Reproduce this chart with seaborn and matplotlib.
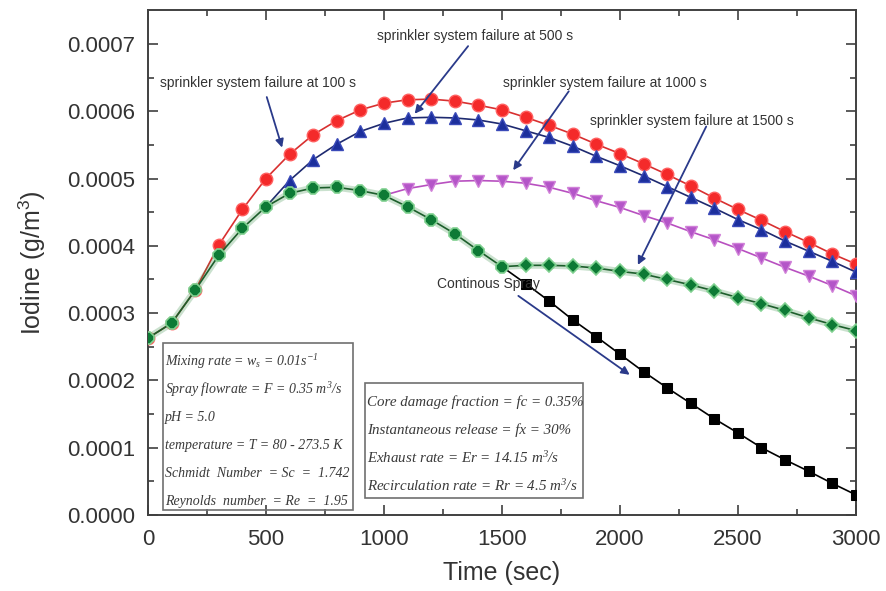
import numpy as np
import pandas as pd
import seaborn as sns
import matplotlib.pyplot as plt
from matplotlib.patches import Rectangle

# time axis (s)
time = list(range(0, 3100, 100))

# iodine concentration (g/m^3)
continuous = [0.000263, 0.000285, 0.000334, 0.000386, 0.000426, 0.000458,
              0.000478, 0.000486, 0.000487, 0.000482, 0.000475, 0.000458,
              0.000439, 0.000418, 0.000393, 0.000369, 0.000344, 0.000318,
              0.000290, 0.000265, 0.000239, 0.000213, 0.000189, 0.000166,
              0.000143, 0.000122, 0.000100, 0.000082, 0.000065, 0.000047,
              0.000030]
fail_100 = [0.000263, 0.000285, 0.000334, 0.000401, 0.000454, 0.000500,
            0.000536, 0.000565, 0.000586, 0.000602, 0.000612, 0.000617,
            0.000618, 0.000615, 0.000609, 0.000602, 0.000591, 0.000579,
            0.000566, 0.000551, 0.000537, 0.000522, 0.000506, 0.000489,
            0.000471, 0.000454, 0.000438, 0.000421, 0.000405, 0.000388,
            0.000373]
# these start at the failure time
fail_500 = [0.000458, 0.000497, 0.000528, 0.000551, 0.000570, 0.000582,
            0.000590, 0.000591, 0.000590, 0.000587, 0.000581, 0.000571,
            0.000561, 0.000548, 0.000533, 0.000519, 0.000504, 0.000488,
            0.000472, 0.000456, 0.000439, 0.000424, 0.000407, 0.000392,
            0.000377, 0.000361]
fail_1000 = [0.000475, 0.000485, 0.000491, 0.000496, 0.000497, 0.000496,
             0.000493, 0.000487, 0.000478, 0.000467, 0.000457, 0.000445,
             0.000434, 0.000421, 0.000409, 0.000396, 0.000382, 0.000368,
             0.000355, 0.000341, 0.000326]
fail_1500 = [0.000369, 0.000371, 0.000371, 0.000370, 0.000367, 0.000362,
             0.000358, 0.000350, 0.000342, 0.000333, 0.000323, 0.000314,
             0.000304, 0.000293, 0.000283, 0.000274]

box1_lines = ["Mixing rate = w$_s$ = 0.01s$^{-1}$",
              "Spray flowrate = F = 0.35 m$^3$/s",
              "pH = 5.0",
              "temperature = T = 80 - 273.5 K",
              "Schmidt  Number  = Sc  =  1.742",
              "Reynolds  number  = Re  =  1.95"]
box2_lines = ["Core damage fraction = fc = 0.35%",
              "Instantaneous release = fx = 30%",
              "Exhaust rate = Er = 14.15 m$^3$/s",
              "Recirculation rate = Rr = 4.5 m$^3$/s"]

sns.set_style("ticks")
plt.rcParams['font.family'] = ['Liberation Sans', 'DejaVu Sans']
plt.rcParams['mathtext.fontset'] = 'stix'

fig = plt.figure(figsize=(8.86, 5.91), dpi=100)
ax = fig.add_axes([0.167, 0.1286, 0.799, 0.854])

t = np.array(time)
ms = 9
later = slice(1, None)

# red: failure at 100 s
sns.lineplot(x=t, y=fail_100, ax=ax, color='#d83030', lw=1.2,
             marker='o', markersize=ms, markerfacecolor='#f42a2a',
             markeredgecolor='#ff6060', markeredgewidth=1, zorder=3)
# blue: failure at 500 s
sns.lineplot(x=t[5:], y=fail_500, ax=ax, color='#1e2a70', lw=1.2,
             marker='^', markersize=ms, markevery=later,
             markerfacecolor='#1c2f9c', markeredgecolor='#3a4ab8',
             markeredgewidth=1, zorder=3)
# magenta: failure at 1000 s
sns.lineplot(x=t[10:], y=fail_1000, ax=ax, color='#b850c0', lw=1.2,
             marker='v', markersize=ms, markevery=later,
             markerfacecolor='#b455c8', markeredgecolor='#d080d8',
             markeredgewidth=1, zorder=3)
# green: failure at 1500 s
sns.lineplot(x=t[15:], y=fail_1500, ax=ax, color='#2f8a3f', lw=5,
             alpha=0.25, zorder=2)
sns.lineplot(x=t[15:], y=fail_1500, ax=ax, color='#1d5e2c', lw=1.2,
             marker='D', markersize=7.5, markevery=later,
             markerfacecolor='#0d7a35', markeredgecolor='#7fd08f',
             markeredgewidth=1.2, zorder=3)
# black: continuous spray
sns.lineplot(x=t[15:], y=continuous[15:], ax=ax, color='black', lw=1.2,
             marker='s', markersize=7, markevery=later,
             markerfacecolor='black', markeredgecolor='black', zorder=3)
# shared early part, green octagons on top
sns.lineplot(x=t[:16], y=continuous[:16], ax=ax, color='#2f8a3f', lw=5,
             alpha=0.25, zorder=4)
sns.lineplot(x=t[:16], y=continuous[:16], ax=ax, color='#1d5e2c', lw=1.2,
             marker='8', markersize=ms, markerfacecolor='#0d7a35',
             markeredgecolor='#7fd08f', markeredgewidth=1.2, zorder=5)

ax.set_xlim(0, 3000)
ax.set_ylim(0, 0.00075)
ax.set_xticks(range(0, 3001, 500))
ax.set_xticks(range(250, 3000, 500), minor=True)
ax.set_yticks(np.arange(0, 0.00071, 0.0001))
ax.set_yticks(np.arange(0.00005, 0.00075, 0.0001), minor=True)
ax.set_yticklabels([f"{v:.4f}" for v in np.arange(0, 0.00071, 0.0001)])
ax.tick_params(which='both', direction='in', top=True, right=True,
               colors='#404040', labelcolor='#333333', labelsize=16)
ax.tick_params(which='major', length=7, width=1.2)
ax.tick_params(which='minor', length=4, width=1.2)
ax.tick_params(axis='x', which='major', pad=10)
ax.tick_params(axis='y', which='major', pad=9)
for s in ax.spines.values():
    s.set_color('#404040')
    s.set_linewidth(1.4)

ax.set_xlabel("Time (sec)", fontsize=18, color='#333333', labelpad=8)
ax.set_ylabel("Iodine (g/m$^3$)", fontsize=18, color='#333333', labelpad=14)
plt.rcParams['mathtext.default'] = 'regular'

arrow = dict(arrowstyle='-|>', color='#2a3a8a', lw=1.3, mutation_scale=12)
txt = dict(fontsize=10, color='#333333', va='center')
ax.annotate("", xy=(572, 0.000542), xytext=(500, 0.000625),
            arrowprops=arrow, zorder=6)
ax.text(51, 0.000642, "sprinkler system failure at 100 s", **txt)
ax.annotate("", xy=(1123, 0.000593), xytext=(1364, 0.000700),
            arrowprops=arrow, zorder=6)
ax.text(970, 0.000712, "sprinkler system failure at 500 s", **txt)
ax.annotate("", xy=(1541, 0.000509), xytext=(1790, 0.000633),
            arrowprops=arrow, zorder=6)
ax.text(1504, 0.000642, "sprinkler system failure at 1000 s", **txt)
ax.annotate("", xy=(2071, 0.000368), xytext=(2371, 0.000581),
            arrowprops=arrow, zorder=6)
ax.text(1873, 0.000586, "sprinkler system failure at 1500 s", **txt)
ax.annotate("", xy=(2051, 0.000206), xytext=(1560, 0.000328),
            arrowprops=arrow, zorder=6)
ax.text(1225, 0.000344, "Continous Spray", **txt)

serif = dict(family=['Liberation Serif', 'DejaVu Serif'], style='italic',
             color='#3a3a3a', va='center')
ax.add_patch(Rectangle((64, 0.0000074), 805, 0.0002476, fill=False,
                       edgecolor='#707070', lw=1.2, zorder=6))
for i, line in enumerate(box1_lines):
    ax.text(72, 0.0002275 - i * 0.0000416, line, zorder=7,
            fontsize=10, **serif)
ax.add_patch(Rectangle((919, 0.0000252), 924, 0.0001706, fill=False,
                       edgecolor='#707070', lw=1.2, zorder=6))
for i, line in enumerate(box2_lines):
    ax.text(928, 0.000168 - i * 0.0000418, line, zorder=7,
            fontsize=10.8, **serif)

plt.savefig('out.png', dpi=100)
